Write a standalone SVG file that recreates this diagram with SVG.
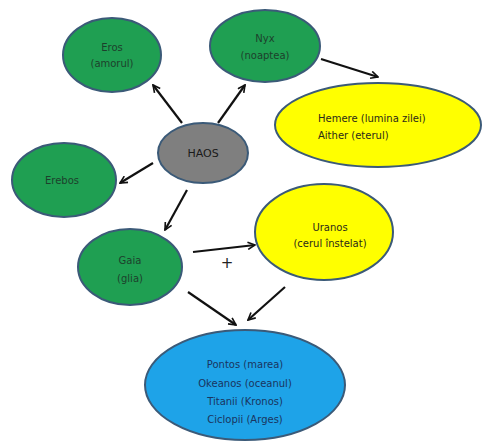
<svg xmlns="http://www.w3.org/2000/svg" width="485" height="444" viewBox="0 0 485 444">
<defs>
<marker id="ah" viewBox="0 0 10 10" refX="9" refY="5" markerWidth="9" markerHeight="9" markerUnits="userSpaceOnUse" orient="auto">
<path d="M1,1 L9,5 L1,9" fill="none" stroke="#111" stroke-width="1.8"/>
</marker>
<style>
.n{stroke:#3b5a78;stroke-width:2}
.g{fill:#1f9f52}
.y{fill:#ffff00}
.b{fill:#1ea3e8}
.gr{fill:#7f7f7f}
text{font-family:"DejaVu Sans","Liberation Sans",sans-serif;font-size:10px;text-anchor:middle}
.tg{fill:#1d3f2c}
.ty{fill:#2a2a1a}
.tb{fill:#1a3560}
.c line{stroke:#111;stroke-width:2.2;marker-end:url(#ah)}
</style>
</defs>
<rect width="485" height="444" fill="#fff"/>
<g class="c" id="connectors">
<line x1="182" y1="123" x2="153" y2="85"/>
<line x1="218" y1="123" x2="245" y2="85"/>
<line x1="153" y1="163" x2="120" y2="183"/>
<line x1="187" y1="190" x2="165" y2="230"/>
<line x1="321" y1="59" x2="378" y2="77"/>
<line x1="193" y1="252" x2="255" y2="245"/>
<line x1="188" y1="292" x2="236" y2="325"/>
<line x1="285" y1="287" x2="248" y2="320"/>
</g>
<g id="eros"><ellipse class="n g" cx="112" cy="55" rx="49" ry="37"/><text class="tg" x="112" y="51">Eros</text><text class="tg" x="112" y="67">(amorul)</text></g>
<g id="nyx"><ellipse class="n g" cx="265" cy="46" rx="55" ry="36"/><text class="tg" x="265" y="42">Nyx</text><text class="tg" x="265" y="59">(noaptea)</text></g>
<g id="haos"><ellipse class="n gr" cx="203" cy="153" rx="45" ry="30"/><text x="203" y="157" fill="#1a1a1a" style="font-size:11px">HAOS</text></g>
<g id="erebos"><ellipse class="n g" cx="64" cy="180" rx="52" ry="37"/><text class="tg" x="62" y="184">Erebos</text></g>
<g id="hemere"><ellipse class="n y" cx="378" cy="125" rx="103" ry="42"/><text class="ty" x="318" y="122" style="text-anchor:start">Hemere (lumina zilei)</text><text class="ty" x="318" y="139" style="text-anchor:start">Aither (eterul)</text></g>
<g id="uranos"><ellipse class="n y" cx="324" cy="232" rx="69" ry="48"/><text class="ty" x="330" y="231">Uranos</text><text class="ty" x="330" y="247">(cerul înstelat)</text></g>
<g id="gaia"><ellipse class="n g" cx="130" cy="267" rx="52" ry="38"/><text class="tg" x="130" y="264">Gaia</text><text class="tg" x="130" y="282">(glia)</text></g>
<text x="227" y="268" fill="#222" style="font-size:15px">+</text>
<g id="descendants"><ellipse class="n b" cx="245" cy="385" rx="100" ry="55"/>
<text class="tb" x="245" y="368">Pontos (marea)</text>
<text class="tb" x="245" y="387">Okeanos (oceanul)</text>
<text class="tb" x="245" y="405">Titanii (Kronos)</text>
<text class="tb" x="245" y="423">Ciclopii (Arges)</text></g>
</svg>
